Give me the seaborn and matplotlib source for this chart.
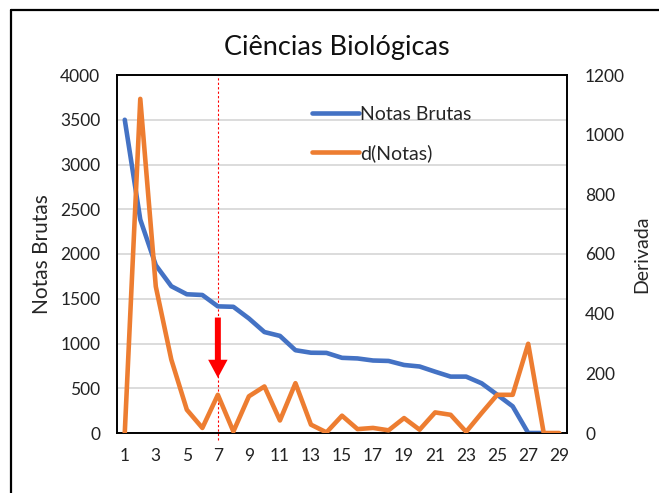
import pandas as pd
import seaborn as sns
import matplotlib.pyplot as plt
from matplotlib.lines import Line2D

# Dados
posicoes = list(range(1, 30))
notas_brutas = [3500, 2385, 1875, 1640, 1550, 1542, 1415, 1410, 1280, 1128, 1085,
                925, 897, 895, 840, 833, 810, 805, 760, 743, 685, 630, 630, 555,
                428, 298, 0, 0]
derivada = [0, 1120, 491, 246, 78, 17, 128, 5, 123, 156, 42, 167, 28, 2, 58,
            13, 17, 9, 50, 11, 69, 61, 4, 67, 128, 128, 299, 0, 0]
ticks_x = list(range(1, 30, 2))
ticks_esq = list(range(0, 4001, 500))
ticks_dir = list(range(0, 1201, 200))

notas_df = pd.DataFrame({'Posicao': posicoes[:len(notas_brutas)], 'Notas': notas_brutas})
deriv_df = pd.DataFrame({'Posicao': posicoes, 'Derivada': derivada})

sns.set_style('white')
plt.rcParams['font.family'] = ['Lato', 'DejaVu Sans']

azul = '#4472C4'
laranja = '#ED7D31'

fig = plt.figure(figsize=(6.59, 4.93), dpi=100)
ax = fig.add_axes([117 / 659, 1 - 433 / 493, 450 / 659, 358 / 493])
ax2 = ax.twinx()

sns.lineplot(data=notas_df, x='Posicao', y='Notas', ax=ax, color=azul, linewidth=3.3, zorder=3)
sns.lineplot(data=deriv_df, x='Posicao', y='Derivada', ax=ax2, color=laranja, linewidth=3.3, zorder=3)

ax.set_xlim(0.5, 29.5)
ax.set_ylim(0, 4000)
ax2.set_ylim(0, 1200)
ax.set_xticks(ticks_x)
ax.set_yticks(ticks_esq)
ax2.set_yticks(ticks_dir)
ax.tick_params(axis='both', length=0, labelsize=12.5, colors='#222222')
ax.tick_params(axis='y', pad=12)
ax.tick_params(axis='x', pad=11)
ax2.tick_params(axis='y', length=0, labelsize=12.5, colors='#222222', pad=13)

ax.grid(axis='y', color='#D9D9D9', linewidth=1.3)
ax.set_axisbelow(True)
for a in (ax, ax2):
    for s in a.spines.values():
        s.set_color('black')
        s.set_linewidth(1.2)

ax.set_xlabel('')
ax.set_ylabel('Notas Brutas', fontsize=15, labelpad=6)
ax2.set_ylabel('Derivada', fontsize=14, labelpad=6)

# linha de corte e seta
ax.axvline(7, ymin=-0.02, ymax=1.0, color='red', linestyle=(0, (2, 2)), linewidth=0.8, clip_on=False, zorder=2)
ax2.annotate('', xy=(7, 185), xytext=(7, 387),
             arrowprops=dict(facecolor='#FF0000', edgecolor='none', width=4.3,
                             headwidth=14, headlength=13, shrink=0.0), zorder=5)

if ax2.get_legend() is not None:
    ax2.get_legend().remove()
if ax.get_legend() is not None:
    ax.get_legend().remove()
handles = [Line2D([0], [0], color=azul, linewidth=3.3),
           Line2D([0], [0], color=laranja, linewidth=3.3)]
ax2.legend(handles, ['Notas Brutas', 'd(Notas)'], loc='upper left',
           bbox_to_anchor=(312 / 659, 1 - 106 / 493), bbox_transform=fig.transFigure,
           frameon=False, borderaxespad=0, borderpad=0, fontsize=14,
           handlelength=2.4, handletextpad=0.08, labelspacing=1.1)

fig.text(337 / 659, 1 - 48 / 493, 'Ciências Biológicas', ha='center', va='center', fontsize=19.5, color='#111111')

# moldura externa (só esquerda e topo visíveis)
fig.add_artist(Line2D([11 / 659, 11 / 659], [0, 1 - 10 / 493], color='black', linewidth=1.6, transform=fig.transFigure))
fig.add_artist(Line2D([11 / 659, 1], [1 - 10 / 493, 1 - 10 / 493], color='black', linewidth=1.6, transform=fig.transFigure))

fig.savefig('out.png', dpi=100)
